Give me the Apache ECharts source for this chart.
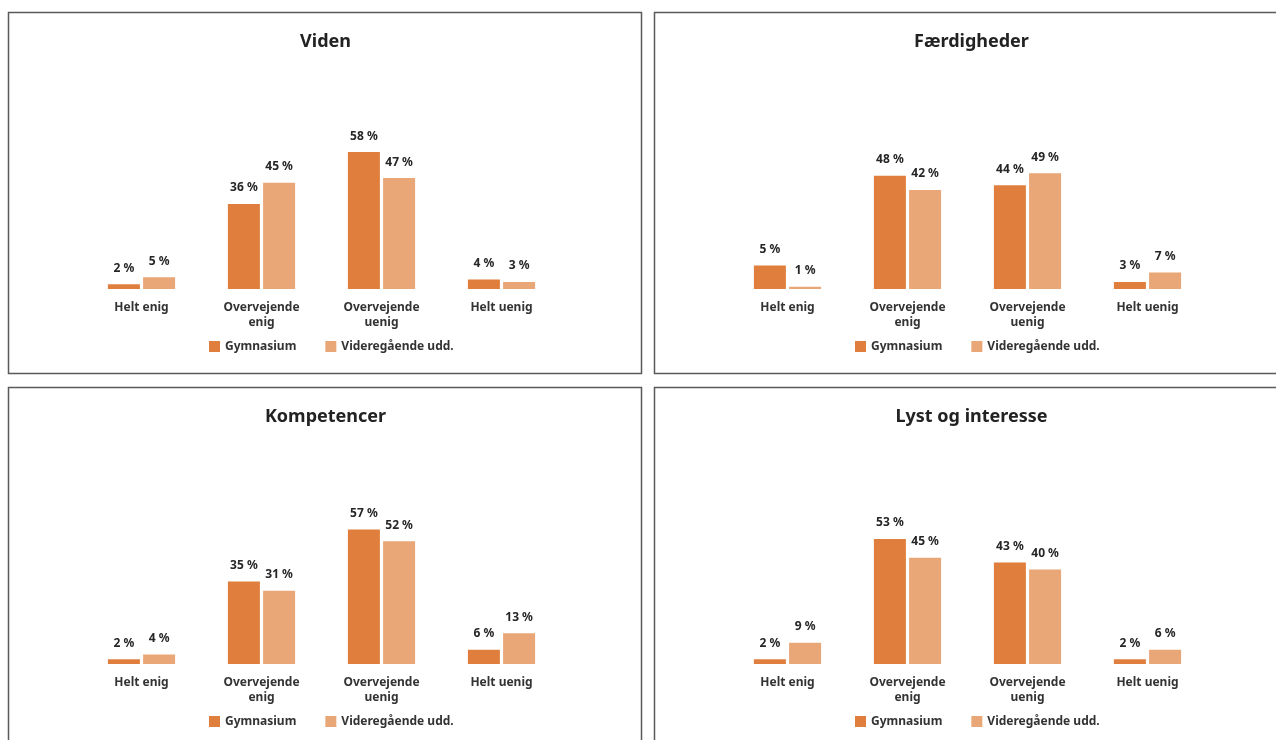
<!DOCTYPE html>
<html>
<head>
<meta charset="utf-8">
<script src="https://cdn.jsdelivr.net/npm/echarts@6/dist/echarts.min.js"></script>
<style>
html,body{margin:0;padding:0;background:#fff;}
#chart{width:1276px;height:740px;}
</style>
</head>
<body>
<div id="chart"></div>
<script>
// ---- data ----
const categories = ['Helt enig', 'Overvejende\nenig', 'Overvejende\nuenig', 'Helt uenig'];
const seriesNames = ['Gymnasium', 'Videregående udd.'];
const panelTitles = ['Viden', 'Færdigheder', 'Kompetencer', 'Lyst og interesse'];

// bar heights as drawn in the picture
const videnGym = [2, 36, 58, 4];
const videnVid = [5, 45, 47, 3];
const faerdighederGym = [10, 48, 44, 3];
const faerdighederVid = [1, 42, 49, 7];
const kompetencerGym = [2, 35, 57, 6];
const kompetencerVid = [4, 31, 52, 13];
const lystGym = [2, 53, 43, 2];
const lystVid = [9, 45, 40, 6];

// value labels as printed in the picture
const videnGymLabels = [2, 36, 58, 4];
const videnVidLabels = [5, 45, 47, 3];
const faerdighederGymLabels = [5, 48, 44, 3];
const faerdighederVidLabels = [1, 42, 49, 7];
const kompetencerGymLabels = [2, 35, 57, 6];
const kompetencerVidLabels = [4, 31, 52, 13];
const lystGymLabels = [2, 53, 43, 2];
const lystVidLabels = [9, 45, 40, 6];

const panelData = [
  [[videnGym, videnGymLabels], [videnVid, videnVidLabels]],
  [[faerdighederGym, faerdighederGymLabels], [faerdighederVid, faerdighederVidLabels]],
  [[kompetencerGym, kompetencerGymLabels], [kompetencerVid, kompetencerVidLabels]],
  [[lystGym, lystGymLabels], [lystVid, lystVidLabels]]
];

// ---- layout ----
const FONT = "'Noto Sans', sans-serif";
const colors = ['#E07F3D', '#E9A677'];
const panels = [
  {x: 8.5, y: 12.5},
  {x: 654.5, y: 12.5},
  {x: 8.5, y: 387.5},
  {x: 654.5, y: 387.5}
];
const PW = 633, PH = 361;

const chart = echarts.init(document.getElementById('chart'), null, {renderer: 'canvas'});

const title = [], grid = [], xAxis = [], yAxis = [], series = [], legend = [], graphic = [];

panels.forEach((p, i) => {
  graphic.push({
    type: 'rect', silent: true,
    shape: {x: p.x, y: p.y, width: PW, height: PH},
    style: {fill: 'none', stroke: '#5a5a5a', lineWidth: 1.5},
    z: 0
  });
  title.push({
    text: panelTitles[i],
    left: p.x + PW / 2 + 0.5,
    textAlign: 'center',
    top: p.y + 20,
    padding: 0,
    textStyle: {fontFamily: FONT, fontSize: 18, fontWeight: 'bold', color: '#222'}
  });
  grid.push({
    left: p.x + 73,
    top: p.y + 40.5,
    width: 480,
    height: 236,
    containLabel: false
  });
  xAxis.push({
    type: 'category',
    gridIndex: i,
    data: categories,
    axisLine: {show: false},
    axisTick: {show: false},
    axisLabel: {
      interval: 0, margin: 11,
      fontFamily: FONT, fontSize: 12, fontWeight: 'bold', color: '#333', lineHeight: 15
    }
  });
  yAxis.push({
    type: 'value',
    gridIndex: i,
    min: 0, max: 100,
    show: false,
    splitLine: {show: false}
  });
  panelData[i].forEach(([vals, labels], s) => {
    series.push({
      type: 'bar',
      name: seriesNames[s],
      xAxisIndex: i,
      yAxisIndex: i,
      data: vals,
      barWidth: 32,
      barGap: '10%',
      itemStyle: {color: colors[s]},
      label: {
        show: true, position: 'top', distance: 10,
        formatter: (prm) => labels[prm.dataIndex] + ' %',
        fontFamily: FONT, fontSize: 12, fontWeight: 'bold', color: '#262626'
      }
    });
  });
  legend.push({
    data: seriesNames,
    left: p.x + 200.5,
    top: p.y + 328,
    padding: 0,
    icon: 'rect',
    itemWidth: 11,
    itemHeight: 11,
    itemGap: 29,
    selectedMode: false,
    textStyle: {fontFamily: FONT, fontSize: 12, fontWeight: 'bold', color: '#333'}
  });
});

chart.setOption({
  animation: false,
  color: colors,
  title, grid, xAxis, yAxis, series, legend, graphic
});
</script>
</body>
</html>
